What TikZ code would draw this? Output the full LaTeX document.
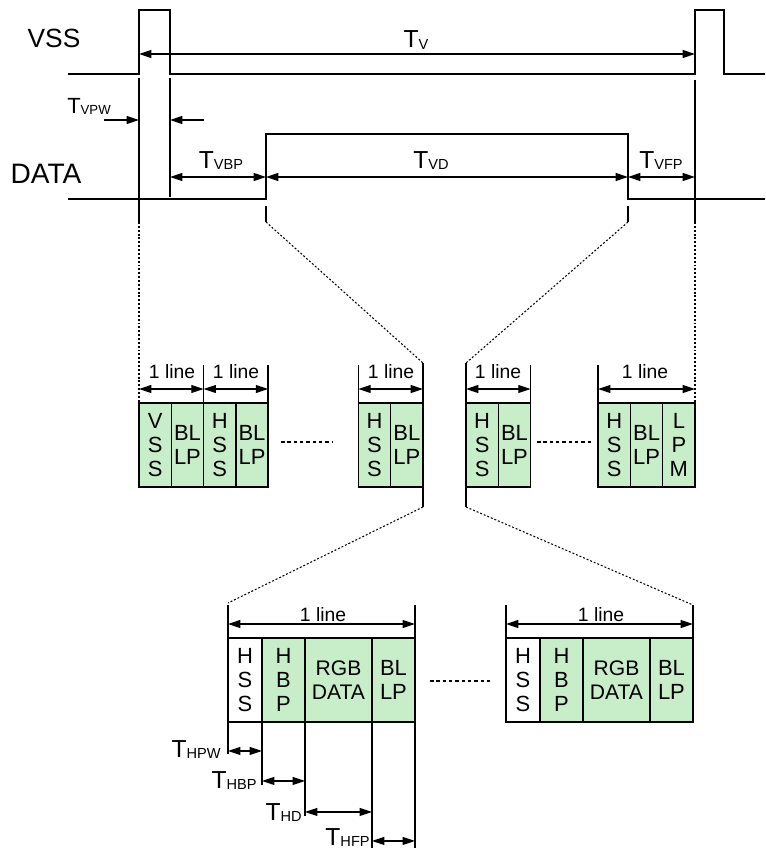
\documentclass[tikz,border=0pt]{standalone}
\usepackage{fontspec}
\setmainfont{Liberation Sans}
\usetikzlibrary{arrows.meta,positioning}
\definecolor{CellGreen}{HTML}{C8EDC9}
\newcommand{\px}{0.569pt}
\newcommand{\Tsub}[2][8.3]{T\raisebox{-0.6pt}{\fontsize{#1}{#1}\selectfont #2}}

\begin{document}
\begin{tikzpicture}[x=0.02cm,y=-0.02cm,
    >={Triangle[length=7pt,width=4.5pt]},
    every node/.style={inner sep=0pt},
    sig/.style={line width=0.8pt},
    dimarr/.style={<->,line width=0.7pt},
    onearr/.style={->,line width=0.7pt},
    guide/.style={line width=0.6pt,dash pattern=on 1.1pt off 1.1pt},
    gap/.style={line width=0.9pt,dash pattern=on 2pt off 1.6pt},
    lbl/.style={font=\fontsize{14}{16}\selectfont,anchor=base},
    linelbl/.style={font=\fontsize{11}{13}\selectfont,anchor=base},
    cell/.style={draw,line width=0.8pt,fill=CellGreen,outer sep=0pt,minimum height=84*\px,
      align=center,font=\fontsize{12.5}{13.6}\selectfont},
    narrow/.style={cell,minimum width=32.3*\px},
    wide/.style={cell,font=\fontsize{12}{13.3}\selectfont}
  ]
  \path[use as bounding box,clip] (0,0) rectangle (765,848);

  \node[lbl,font=\fontsize{15}{17}\selectfont] (vsslbl) at (54,48) {VSS};
  \node[lbl,font=\fontsize{16}{18}\selectfont] (datalbl) at (46,183) {DATA};
  \draw[sig] (68,74) -- (139,74) -- (139,10) -- (170,10) -- (170,74) -- (695,74)
    -- (695,10) -- (724,10) -- (724,74) -- (765,74);
  \draw[sig] (68,199) -- (266,199) -- (266,134) -- (628,134) -- (628,199) -- (765,199);

  \coordinate (tv1) at (139,54);
  \coordinate (tv2) at (695,54);
  \coordinate (pw1) at (104,120);
  \coordinate (pw2) at (139,120);
  \coordinate (pw3) at (204,120);
  \coordinate (pw4) at (170,120);
  \coordinate (td0) at (170,177);
  \coordinate (td1) at (266,177);
  \coordinate (td2) at (628,177);
  \coordinate (td3) at (695,177);
  \draw[dimarr] (tv1) -- (tv2);
  \draw[onearr] (pw1) -- (pw2);
  \draw[onearr] (pw3) -- (pw4);
  \draw[dimarr] (td0) -- (td1);
  \draw[dimarr] (td1) -- (td2);
  \draw[dimarr] (td2) -- (td3);
  \node[lbl] (tvlbl) at (416,48) {\Tsub{V}};
  \node[lbl,font=\fontsize{12.5}{14}\selectfont] (tvpwlbl) at (89,113) {\Tsub[7.5]{VPW}};
  \node[lbl] (tvbplbl) at (221,168) {\Tsub{VBP}};
  \node[lbl] (tvdlbl) at (431,168) {\Tsub{VD}};
  \node[lbl] (tvfplbl) at (661,168) {\Tsub{VFP}};

  \node[narrow,anchor=north west] (m1) at (139,403) {V\\S\\S};
  \node[narrow,right=0pt of m1] (m2) {BL\\LP};
  \node[narrow,right=0pt of m2] (m3) {H\\S\\S};
  \node[narrow,right=0pt of m3] (m4) {BL\\LP};
  \node[narrow,anchor=north east] (n2) at (423,403) {BL\\LP};
  \node[narrow,left=0pt of n2] (n1) {H\\S\\S};
  \node[narrow,anchor=north west] (r1) at (466,403) {H\\S\\S};
  \node[narrow,right=0pt of r1] (r2) {BL\\LP};
  \node[narrow,anchor=north east] (q3) at (695,403) {L\\P\\M};
  \node[narrow,left=0pt of q3] (q2) {BL\\LP};
  \node[narrow,left=0pt of q2] (q1) {H\\S\\S};
  \draw[gap] (281,442) -- (333,442);
  \draw[gap] (537,442) -- (592,442);

  \draw[sig] (139,78) -- (139,222) coordinate (g1);
  \draw[guide] (g1) -- (m1.north west);
  \draw[sig] (170,78) -- (170,197);
  \draw[sig] (695,80) -- (695,222) coordinate (g4);
  \draw[guide] (g4) -- (q3.north east);
  \draw[sig] (266,206) -- (266,222) coordinate (g2);
  \draw[guide] (g2) -- ([yshift=40*\px]n2.north east);
  \draw[sig] ([yshift=40*\px]n2.north east) -- (n2.north east);
  \draw[sig] (628,206) -- (628,222) coordinate (g3);
  \draw[guide] (g3) -- ([yshift=40*\px]r1.north west);
  \draw[sig] ([yshift=40*\px]r1.north west) -- (r1.north west);
  \foreach \c in {m3.north west,m4.north east,n1.north west,r2.north east,q1.north west}
    \draw[sig] ([yshift=38*\px]\c) -- (\c);

  \draw[dimarr] ([yshift=14*\px]m1.north west) -- ([yshift=14*\px]m3.north west);
  \draw[dimarr] ([yshift=14*\px]m3.north west) -- ([yshift=14*\px]m4.north east);
  \draw[dimarr] ([yshift=14*\px]n1.north west) -- ([yshift=14*\px]n2.north east);
  \draw[dimarr] ([yshift=14*\px]r1.north west) -- ([yshift=14*\px]r2.north east);
  \draw[dimarr] ([yshift=14*\px]q1.north west) -- ([yshift=14*\px]q3.north east);
  \node[linelbl] (l1) at (172,378) {1 line};
  \node[linelbl] (l2) at (236,378) {1 line};
  \node[linelbl] (l3) at (391,378) {1 line};
  \node[linelbl] (l4) at (498,378) {1 line};
  \node[linelbl] (l5) at (645,378) {1 line};

  \node[cell,fill=white,minimum width=34*\px,anchor=north west] (a1) at (228,638) {H\\S\\S};
  \node[cell,minimum width=43*\px,right=0pt of a1] (a2) {H\\B\\P};
  \node[wide,minimum width=67*\px,right=0pt of a2] (a3) {RGB\\DATA};
  \node[cell,minimum width=43*\px,right=0pt of a3] (a4) {BL\\LP};
  \node[cell,fill=white,minimum width=34*\px,anchor=north west] (b1) at (506,638) {H\\S\\S};
  \node[cell,minimum width=43*\px,right=0pt of b1] (b2) {H\\B\\P};
  \node[wide,minimum width=67*\px,right=0pt of b2] (b3) {RGB\\DATA};
  \node[cell,minimum width=43*\px,right=0pt of b3] (b4) {BL\\LP};
  \draw[gap] (430,681) -- (492,681);

  \draw[sig] (n2.south east) -- ++(0,20) coordinate (n2b);
  \draw[guide] (n2b) -- ([yshift=35*\px]a1.north west);
  \draw[sig] (r1.south west) -- ++(0,20) coordinate (r1b);
  \draw[guide] (r1b) -- ([yshift=33*\px]b4.north east);
  \foreach \c in {a1.north west,a4.north east,b1.north west,b4.north east}
    \draw[sig] ([yshift=33*\px]\c) -- (\c);
  \draw[dimarr] ([yshift=14*\px]a1.north west) -- ([yshift=14*\px]a4.north east);
  \draw[dimarr] ([yshift=14*\px]b1.north west) -- ([yshift=14*\px]b4.north east);
  \node[linelbl] (l6) at (323,621) {1 line};
  \node[linelbl] (l7) at (601,621) {1 line};

  \draw[sig] (a1.south west) -- ++(0,32);
  \draw[sig] (a2.south west) -- ++(0,63);
  \draw[sig] (a3.south west) -- ++(0,94);
  \draw[sig] (a4.south west) -- ++(0,140);
  \draw[sig] (a4.south east) -- ++(0,140);
  \draw[dimarr] ([yshift=-29*\px]a1.south west) -- ([yshift=-29*\px]a2.south west);
  \draw[dimarr] ([yshift=-59*\px]a2.south west) -- ([yshift=-59*\px]a3.south west);
  \draw[dimarr] ([yshift=-90*\px]a3.south west) -- ([yshift=-90*\px]a4.south west);
  \draw[dimarr] ([yshift=-119*\px]a4.south west) -- ([yshift=-119*\px]a4.south east);
  \node[lbl,anchor=base east] (thpw) at (221,757) {\Tsub{HPW}};
  \node[lbl,anchor=base east] (thbp) at (257,788) {\Tsub{HBP}};
  \node[lbl,anchor=base east] (thd) at (302,820) {\Tsub{HD}};
  \node[lbl,anchor=base east] (thfp) at (370,845) {\Tsub{HFP}};
\end{tikzpicture}
\end{document}
